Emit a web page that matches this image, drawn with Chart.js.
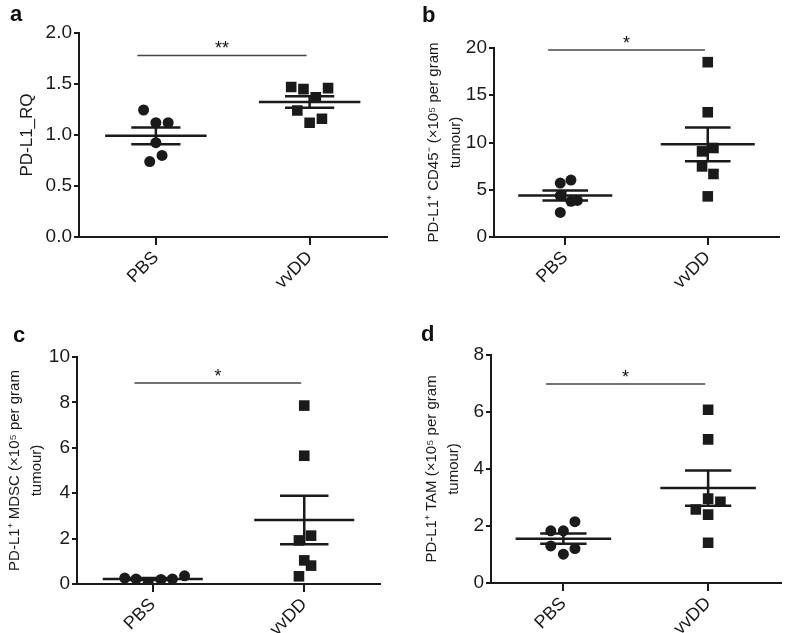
<!DOCTYPE html>
<html lang="en">
<head>
<meta charset="UTF-8">
<title>PD-L1 expression after vvDD treatment</title>
<script src="https://cdn.jsdelivr.net/npm/chart.js@4"></script>
<style>
    body { margin: 0; background: #fff; }
    #fig { position: relative; width: 788px; height: 633px; overflow: hidden; }
    #fig canvas { position: absolute; }
</style>
</head>
<body>
<div id="fig">
    <canvas id="chartA" width="394" height="316" style="left:0;top:0"></canvas>
    <canvas id="chartB" width="394" height="316" style="left:394px;top:0"></canvas>
    <canvas id="chartC" width="394" height="317" style="left:0;top:316px"></canvas>
    <canvas id="chartD" width="394" height="317" style="left:394px;top:316px"></canvas>
</div>
<script>
const groups = ['PBS', 'vvDD'];

// a: PD-L1 relative quantity
const pbsRQ = [1.245, 1.12, 1.12, 0.925, 0.80, 0.74];
const pbsRQJitter = [-0.08, 0, 0.08, 0, 0.04, -0.04];
const vvddRQ = [1.47, 1.45, 1.46, 1.37, 1.24, 1.16, 1.12];
const vvddRQJitter = [-0.12, -0.04, 0.12, 0.04, -0.08, 0.08, 0];

// b: PD-L1+ CD45- cells (x10^5 per gram tumour)
const pbsCD45 = [5.71, 6.03, 4.37, 3.77, 3.87, 2.6];
const pbsCD45Jitter = [-0.035, 0.04, -0.035, 0.04, 0.085, -0.035];
const vvddCD45 = [18.5, 13.2, 9.42, 9.06, 7.47, 6.67, 4.3];
const vvddCD45Jitter = [0, 0, 0.04, -0.04, -0.04, 0.04, 0];

// c: PD-L1+ MDSC
const pbsMDSC = [0.26, 0.22, 0.04, 0.2, 0.22, 0.36];
const pbsMDSCJitter = [-0.185, -0.11, -0.03, 0.054, 0.13, 0.21];
const vvddMDSC = [7.86, 5.65, 2.13, 1.92, 1.04, 0.81, 0.34];
const vvddMDSCJitter = [0, 0, 0.045, -0.035, 0, 0.045, -0.035];

// d: PD-L1+ TAM
const pbsTAM = [1.83, 1.83, 2.15, 1.30, 1.01, 1.21];
const pbsTAMJitter = [-0.087, 0, 0.08, -0.087, 0, 0.08];
const vvddTAM = [6.08, 5.04, 2.96, 2.85, 2.58, 2.40, 1.41];
const vvddTAMJitter = [0, 0, 0, 0.085, -0.085, 0, 0];

// significance bars
const sigLevels = [1.78, 19.8, 8.85, 6.98];
const sigStars = ['**', '*', '*', '*'];
const sigFrom = 0.88, sigTo = 1.98;

const FONT = '"Liberation Sans", Arial, Helvetica, sans-serif';
const INK = '#1a1a1a';

function mean(a) { return a.reduce((s, v) => s + v, 0) / a.length; }
function sem(a) {
    const m = mean(a);
    const sd = Math.sqrt(a.reduce((s, v) => s + (v - m) ** 2, 0) / (a.length - 1));
    return sd / Math.sqrt(a.length);
}

function seg(x0, x1, y0, y1, width, color) {
    return {
        data: [{x: x0, y: y0}, {x: x1, y: y1}],
        showLine: true, borderColor: color, borderWidth: width,
        pointRadius: 0, borderCapStyle: 'butt'
    };
}

// mean line + SEM whiskers for one group
function meanSem(center, values) {
    const m = mean(values), e = sem(values);
    return [
        seg(center - 0.33, center + 0.33, m, m, 2.5, INK),
        seg(center - 0.16, center + 0.16, m + e, m + e, 2.5, INK),
        seg(center - 0.16, center + 0.16, m - e, m - e, 2.5, INK),
        seg(center, center, m - e, m + e, 2.5, INK)
    ];
}

const panelMarks = {
    id: 'panelMarks',
    afterDatasetsDraw(chart, args, opts) {
        const {ctx, scales: {x, y}} = chart;
        ctx.save();
        ctx.fillStyle = '#111';
        ctx.textBaseline = 'alphabetic';
        ctx.font = 'bold 22px ' + FONT;
        ctx.textAlign = 'left';
        ctx.fillText(opts.letter, opts.letterX, opts.letterY);
        ctx.font = '18px ' + FONT;
        ctx.textAlign = 'center';
        ctx.fillText(opts.stars, x.getPixelForValue((sigFrom + sigTo) / 2), y.getPixelForValue(opts.sig) - 1);
        ctx.restore();
    }
};

function makePanel(id, p) {
    const canvas = document.getElementById(id);
    const W = canvas.width, H = canvas.height;
    const datasets = [
        {
            data: p.pbs.map((v, i) => ({x: 1 + p.pbsJit[i], y: v})),
            pointStyle: 'circle', pointRadius: 5.5, backgroundColor: INK, borderWidth: 0
        },
        {
            data: p.vvdd.map((v, i) => ({x: 2 + p.vvddJit[i], y: v})),
            pointStyle: 'rect', pointRadius: 7.5, backgroundColor: INK, borderWidth: 0
        },
        ...meanSem(1, p.pbs),
        ...meanSem(2, p.vvdd),
        seg(sigFrom, sigTo, p.sig, p.sig, 1.5, '#444')
    ];

    return new Chart(canvas, {
        type: 'scatter',
        data: { datasets: datasets },
        options: {
            responsive: false,
            animation: false,
            layout: { padding: { left: p.padLeft, top: p.area.top, right: W - p.area.right, bottom: 0 } },
            plugins: {
                legend: { display: false },
                tooltip: { enabled: false },
                panelMarks: { letter: p.letter, letterX: p.letterX, letterY: p.letterY, stars: p.stars, sig: p.sig }
            },
            scales: {
                x: {
                    type: 'linear', min: 0.5, max: 2.5,
                    afterBuildTicks: s => { s.ticks = [{value: 1}, {value: 2}]; },
                    afterFit: s => { s.height = H - p.area.bottom; },
                    ticks: {
                        callback: v => groups[v - 1],
                        autoSkip: false, minRotation: 45, maxRotation: 45,
                        color: INK, font: { family: FONT, size: 18 }, padding: 2
                    },
                    grid: { drawOnChartArea: false, drawTicks: true, tickLength: 8, color: INK, lineWidth: 2 },
                    border: { color: INK, width: 2 }
                },
                y: {
                    min: 0, max: p.yMax,
                    afterFit: s => { s.width = p.area.left - p.padLeft; },
                    ticks: {
                        stepSize: p.yStep,
                        callback: v => v.toFixed(p.decimals),
                        color: INK, font: { family: FONT, size: 19 }, padding: 2
                    },
                    grid: { drawOnChartArea: false, drawTicks: true, tickLength: 5, color: INK, lineWidth: 2 },
                    border: { color: INK, width: 2 },
                    title: {
                        display: true, text: p.title, color: INK,
                        font: { family: FONT, size: p.titleSize, lineHeight: 1.45 },
                        padding: { top: 4, bottom: 4 }
                    }
                }
            }
        },
        plugins: [panelMarks]
    });
}

makePanel('chartA', {
    pbs: pbsRQ, pbsJit: pbsRQJitter, vvdd: vvddRQ, vvddJit: vvddRQJitter,
    yMax: 2, yStep: 0.5, decimals: 1,
    title: 'PD-L1_RQ', titleSize: 17,
    sig: sigLevels[0], stars: sigStars[0],
    letter: 'a', letterX: 10, letterY: 21,
    area: { left: 79, top: 33, right: 387, bottom: 237 }, padLeft: 11
});

makePanel('chartB', {
    pbs: pbsCD45, pbsJit: pbsCD45Jitter, vvdd: vvddCD45, vvddJit: vvddCD45Jitter,
    yMax: 20, yStep: 5, decimals: 0,
    title: ['PD-L1\u207A CD45\u207B (\u00D710\u2075 per gram', 'tumour)'], titleSize: 15,
    sig: sigLevels[1], stars: sigStars[1],
    letter: 'b', letterX: 28, letterY: 22,
    area: { left: 100, top: 48, right: 385, bottom: 237 }, padLeft: 25
});

makePanel('chartC', {
    pbs: pbsMDSC, pbsJit: pbsMDSCJitter, vvdd: vvddMDSC, vvddJit: vvddMDSCJitter,
    yMax: 10, yStep: 2, decimals: 0,
    title: ['PD-L1\u207A MDSC (\u00D710\u2075 per gram', 'tumour)'], titleSize: 15,
    sig: sigLevels[2], stars: sigStars[2],
    letter: 'c', letterX: 13, letterY: 26,
    area: { left: 77, top: 41, right: 380, bottom: 268 }, padLeft: 0
});

makePanel('chartD', {
    pbs: pbsTAM, pbsJit: pbsTAMJitter, vvdd: vvddTAM, vvddJit: vvddTAMJitter,
    yMax: 8, yStep: 2, decimals: 0,
    title: ['PD-L1\u207A TAM (\u00D710\u2075 per gram', 'tumour)'], titleSize: 15,
    sig: sigLevels[3], stars: sigStars[3],
    letter: 'd', letterX: 27, letterY: 25,
    area: { left: 97, top: 39, right: 390, bottom: 267 }, padLeft: 23
});
</script>
</body>
</html>
